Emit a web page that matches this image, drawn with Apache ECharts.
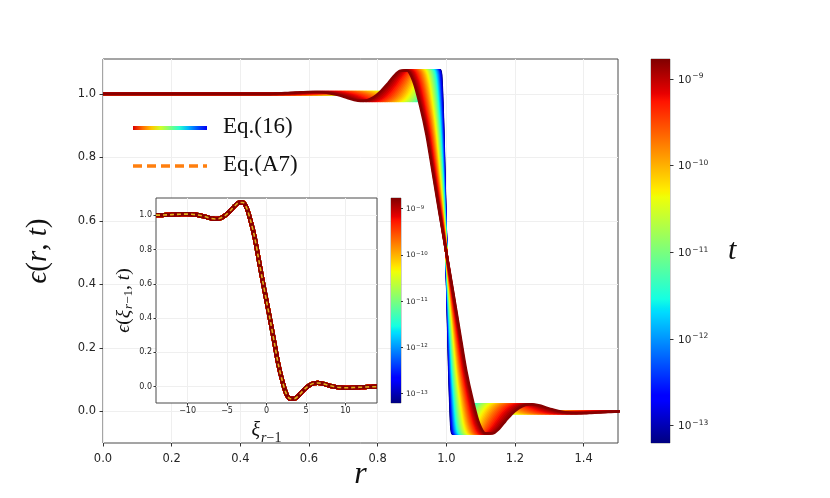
<!DOCTYPE html>
<html><head><meta charset="utf-8">
<script src="https://cdn.jsdelivr.net/npm/echarts@6/dist/echarts.min.js"></script>
<style>html,body{margin:0;padding:0;background:#fff}#c{width:830px;height:498px}</style>
</head><body><div id="c"></div>
<script>
// ---- data ----
// self-similar profile eps(xi) (inset curve, Eq.(16))
const profileXi = [-14,-13.5,-13,-12.5,-12,-11.5,-11,-10.5,-10,-9.5,-9,-8.5,-8,-7.5,-7,-6.5,-6,-5.5,-5,-4.5,-4,-3.5,-3,-2.5,-2,-1.5,-1,-0.5,0,0.5,1,1.5,2,2.5,3,3.5,4,4.5,5,5.5,6,6.5,7,7.5,8,8.5,9,9.5,10,10.5,11,11.5,12,12.5,13,13.5,14];
const profileEps = [1.000,1.000,1.001,1.002,1.003,1.004,1.005,1.006,1.006,1.005,1.003,0.999,0.994,0.987,0.981,0.978,0.980,0.990,1.007,1.030,1.055,1.073,1.074,1.040,0.965,0.870,0.745,0.620,0.500,0.380,0.255,0.130,0.035,-0.040,-0.070,-0.070,-0.055,-0.030,-0.007,0.010,0.020,0.022,0.019,0.013,0.006,0.001,-0.003,-0.005,-0.006,-0.006,-0.005,-0.004,-0.003,-0.002,-0.001,0.000,0.000];
// Eq.(A7) curve (dashed, coincides with the profile)
const a7Xi = profileXi;
const a7Eps = profileEps;
// curves: log10(t) and the front width in r of each curve
const curveLogT = [-13.2,-13.1,-13.0,-12.9,-12.8,-12.7,-12.6,-12.5,-12.4,-12.3,-12.2,-12.1,-12.0,-11.9,-11.8,-11.7,-11.6,-11.5,-11.4,-11.3,-11.2,-11.1,-11.0,-10.9,-10.8,-10.7,-10.6,-10.5,-10.4,-10.3,-10.2,-10.1,-10.0,-9.9,-9.8,-9.7,-9.6,-9.5,-9.4,-9.3,-9.2,-9.1,-9.0,-8.9,-8.8];
const curveWidth = [0.00560,0.00589,0.00619,0.00651,0.00684,0.00719,0.00755,0.00793,0.00832,0.00874,0.00916,0.00961,0.01007,0.01055,0.01105,0.01158,0.01212,0.01268,0.01327,0.01388,0.01451,0.01517,0.01585,0.01656,0.01729,0.01805,0.01884,0.01965,0.02049,0.02136,0.02226,0.02319,0.02416,0.02515,0.02618,0.02724,0.02833,0.02946,0.03062,0.03182,0.03305,0.03432,0.03565,0.03699,0.03838];
const mainXTicks = [0,0.2,0.4,0.6,0.8,1.0,1.2,1.4];
const mainYTicks = [0,0.2,0.4,0.6,0.8,1.0];
const insetXTicks = [-10,-5,0,5,10];
const insetYTicks = [0,0.2,0.4,0.6,0.8,1.0];
const cbarTicks = [-13,-12,-11,-10,-9];
const cbarMin = -13.2, cbarMax = -8.77;

// ---- jet colormap ----
const JR=[[0,0],[0.35,0],[0.66,1],[0.89,1],[1,0.5]];
const JG=[[0,0],[0.125,0],[0.375,1],[0.64,1],[0.91,0],[1,0]];
const JB=[[0,0.5],[0.11,1],[0.34,1],[0.65,0],[1,0]];
function interp(p,v){for(let i=1;i<p.length;i++){if(v<=p[i][0]){const a=p[i-1],b=p[i];return a[1]+(b[1]-a[1])*(v-a[0])/(b[0]-a[0]);}}return p[p.length-1][1];}
function jet(v){v=Math.max(0,Math.min(1,v));return 'rgb('+[JR,JG,JB].map(p=>Math.round(255*interp(p,v))).join(',')+')';}
const jetKnots=[0,0.11,0.125,0.34,0.35,0.375,0.64,0.65,0.66,0.89,0.91,1];
const jetStops=jetKnots.map(k=>({offset:k,color:jet(k)}));
const norm=lt=>(lt-cbarMin)/(cbarMax-cbarMin);

const powLabel=v=>'{b|10}{s|'+String(Math.round(v)).replace('-','\u2212')+'}';
const minus=s=>String(s).replace('-','\u2212');

const chart=echarts.init(document.getElementById('c'),null,{renderer:'canvas'});
const TICKC='#333', LABC='#262626', GRIDC='#efefef', FRAME='#4a4a4a';
const serif='Liberation Serif';
const sans='DejaVu Sans';

const series=[];
// main panel curves
curveLogT.forEach((lt,i)=>{
  const w=curveWidth[i];
  const pts=[];
  if(1+w*profileXi[0]>0) pts.push([0,profileEps[0]]);
  profileXi.forEach((xi,j)=>pts.push([1+w*xi,profileEps[j]]));
  if(1+w*profileXi[profileXi.length-1]<1.5) pts.push([1.5,profileEps[profileEps.length-1]]);
  series.push({type:'line',xAxisIndex:0,yAxisIndex:0,data:pts,symbol:'none',smooth:0.3,
    lineStyle:{color:jet(norm(lt)),width:2.6},silent:true,z:2});
});
// inset curves (collapsed)
curveLogT.forEach((lt,i)=>{
  series.push({type:'line',xAxisIndex:1,yAxisIndex:1,data:profileXi.map((x,j)=>[x,profileEps[j]]),
    symbol:'none',smooth:0.3,lineStyle:{color:jet(norm(lt)),width:4.2},silent:true,z:5});
});
series.push({type:'line',xAxisIndex:1,yAxisIndex:1,data:a7Xi.map((x,j)=>[x,a7Eps[j]]),symbol:'none',smooth:0.3,
  lineStyle:{color:'#e3b01c',width:1.6,type:[4,3]},silent:true,z:6});
// colorbars
function cbarSeries(ax){
  return {type:'custom',xAxisIndex:ax,yAxisIndex:ax,data:[[0,cbarMin]],silent:true,z:5,
    renderItem:(params,api)=>{
      const p0=api.coord([0,cbarMin]),p1=api.coord([1,cbarMax]);
      return {type:'rect',shape:{x:p0[0],y:p1[1],width:p1[0]-p0[0],height:p0[1]-p1[1]},
        style:{fill:new echarts.graphic.LinearGradient(0,1,0,0,jetStops)}};
    }};
}
series.push(cbarSeries(2));
series.push(cbarSeries(3));

const noLine={show:false,onZero:false};
const option={
  animation:false,
  backgroundColor:'#fff',
  grid:[
    {left:103,top:59,width:515,height:384,outerBoundsMode:'none',containLabel:false,show:true,borderColor:FRAME,borderWidth:1,backgroundColor:'transparent'},
    {left:156,top:198,width:221,height:205,outerBoundsMode:'none',containLabel:false,show:true,borderColor:FRAME,borderWidth:1,backgroundColor:'#fff',z:3},
    {left:651,top:59,width:19,height:384,outerBoundsMode:'none',containLabel:false,show:true,borderColor:'#888',borderWidth:0.8,z:3},
    {left:391,top:198,width:10,height:205,outerBoundsMode:'none',containLabel:false,show:true,borderColor:'#888',borderWidth:0.8,z:3}
  ],
  xAxis:[
    {type:'value',gridIndex:0,min:0,max:1.5,
     axisLine:noLine,
     axisTick:{customValues:mainXTicks,length:3.5,lineStyle:{color:TICKC}},
     axisLabel:{customValues:mainXTicks,formatter:v=>v.toFixed(1),fontSize:11.5,color:LABC,fontFamily:sans,margin:10},
     splitLine:{show:true,lineStyle:{color:GRIDC,width:1}},
     name:'r',nameLocation:'middle',nameGap:16,nameMoveOverlap:false,
     nameTextStyle:{fontFamily:serif,fontStyle:'italic',fontSize:32,color:'#111'}},
    {type:'value',gridIndex:1,min:-14,max:14,z:4,
     axisLine:noLine,
     axisTick:{customValues:insetXTicks,length:2.5,lineStyle:{color:TICKC}},
     axisLabel:{customValues:insetXTicks,formatter:v=>minus(v),fontSize:8,color:LABC,fontFamily:sans,margin:4},
     splitLine:{show:true,lineStyle:{color:GRIDC,width:1}},
     name:'{i|ξ}{s|r}{n|−1}',nameLocation:'middle',nameGap:18,
     nameTextStyle:{rich:{
       i:{fontFamily:serif,fontStyle:'italic',fontSize:20,color:'#111',lineHeight:22,verticalAlign:'top'},
       s:{fontFamily:serif,fontStyle:'italic',fontSize:14,color:'#111',lineHeight:14,padding:[10,0,0,1],verticalAlign:'top'},
       n:{fontFamily:serif,fontSize:14,color:'#111',lineHeight:14,padding:[10,0,0,0],verticalAlign:'top'}}}},
    {type:'value',gridIndex:2,min:0,max:1,show:false},
    {type:'value',gridIndex:3,min:0,max:1,show:false}
  ],
  yAxis:[
    {type:'value',gridIndex:0,min:-0.1,max:1.11,
     axisLine:noLine,
     axisTick:{customValues:mainYTicks,length:3.5,lineStyle:{color:TICKC}},
     axisLabel:{customValues:mainYTicks,formatter:v=>v.toFixed(1),fontSize:11.5,color:LABC,fontFamily:sans,margin:7},
     splitLine:{show:true,lineStyle:{color:GRIDC,width:1}},
     name:'{i|ϵ}{n|(}{i|r}{n|, }{i|t}{n|)}',nameLocation:'middle',nameGap:50,
     nameTextStyle:{rich:{i:{fontFamily:serif,fontStyle:'italic',fontSize:29,color:'#111'},n:{fontFamily:serif,fontSize:29,color:'#111'}}}},
    {type:'value',gridIndex:1,min:-0.095,max:1.1,z:4,
     axisLine:noLine,
     axisTick:{customValues:insetYTicks,length:2.5,lineStyle:{color:TICKC}},
     axisLabel:{customValues:insetYTicks,formatter:v=>v.toFixed(1),fontSize:8,color:LABC,fontFamily:sans,margin:4},
     splitLine:{show:true,lineStyle:{color:GRIDC,width:1}},
     name:'{i|ϵ}{n|(}{i|ξ}{s|r}{sn|−1}{n|, }{i|t}{n|)}',nameLocation:'middle',nameGap:19,
     nameTextStyle:{rich:{
       i:{fontFamily:serif,fontStyle:'italic',fontSize:19.5,color:'#111',lineHeight:21,verticalAlign:'top'},
       n:{fontFamily:serif,fontSize:19.5,color:'#111',lineHeight:21,verticalAlign:'top'},
       s:{fontFamily:serif,fontStyle:'italic',fontSize:13,color:'#111',lineHeight:14,padding:[9,0,0,1],verticalAlign:'top'},
       sn:{fontFamily:serif,fontSize:13,color:'#111',lineHeight:14,padding:[9,0,0,0],verticalAlign:'top'}}}},
    {type:'value',gridIndex:2,min:cbarMin,max:cbarMax,position:'right',z:4,
     axisLine:noLine,
     axisTick:{customValues:cbarTicks,length:3.5,lineStyle:{color:TICKC}},
     axisLabel:{customValues:cbarTicks,formatter:powLabel,margin:8,
       rich:{b:{fontSize:10.5,fontFamily:sans,color:LABC,lineHeight:13,verticalAlign:'bottom'},
             s:{fontSize:7.5,fontFamily:sans,color:LABC,lineHeight:9,padding:[0,0,6,1],verticalAlign:'top'}}},
     splitLine:{show:false},
     name:'t',nameLocation:'middle',nameRotate:0,nameGap:58,
     nameTextStyle:{fontFamily:serif,fontStyle:'italic',fontSize:30,color:'#111'}},
    {type:'value',gridIndex:3,min:cbarMin,max:cbarMax,position:'right',z:4,
     axisLine:noLine,
     axisTick:{customValues:cbarTicks,length:2,lineStyle:{color:TICKC}},
     axisLabel:{customValues:cbarTicks,formatter:powLabel,margin:5,
       rich:{b:{fontSize:7.5,fontFamily:sans,color:LABC,lineHeight:9,verticalAlign:'bottom'},
             s:{fontSize:5.5,fontFamily:sans,color:LABC,lineHeight:7,padding:[0,0,4,0.5],verticalAlign:'top'}}},
     splitLine:{show:false}}
  ],
  graphic:[
    {type:'line',silent:true,z:10,shape:{x1:133,y1:128,x2:207,y2:128},
     style:{lineWidth:4,stroke:new echarts.graphic.LinearGradient(133,0,207,0,
       [0.92,0.8,0.7,0.6,0.5,0.4,0.3,0.2,0.1].map((v,k)=>({offset:k/8,color:jet(v)})),true)}},
    {type:'text',silent:true,z:10,style:{text:'Eq.(16)',x:223,y:127,fontFamily:serif,fontSize:23,fill:'#111',verticalAlign:'middle'}},
    {type:'line',silent:true,z:10,shape:{x1:133,y1:166,x2:207,y2:166},
     style:{lineWidth:3.5,stroke:'#ff7f0e',lineDash:[9,5]}},
    {type:'text',silent:true,z:10,style:{text:'Eq.(A7)',x:223,y:165,fontFamily:serif,fontSize:23,fill:'#111',verticalAlign:'middle'}}
  ],
  series:series
};
chart.setOption(option);
</script>
</body></html>
